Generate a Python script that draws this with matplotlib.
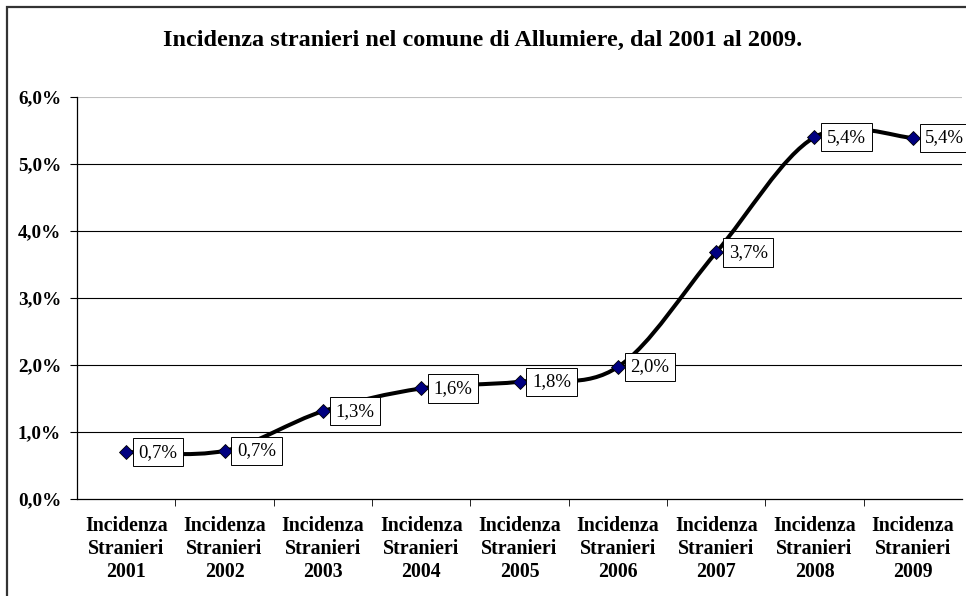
import matplotlib
matplotlib.use("Agg")
import matplotlib.pyplot as plt
from matplotlib.path import Path
from matplotlib.patches import PathPatch, Rectangle
from matplotlib.ticker import FuncFormatter, MultipleLocator

plt.rcParams['font.family'] = ['Liberation Serif', 'DejaVu Serif']

years = ["2001", "2002", "2003", "2004", "2005", "2006", "2007", "2008", "2009"]
values = [0.7, 0.7, 1.3, 1.6, 1.8, 2.0, 3.7, 5.4, 5.4]
plotted = [0.70, 0.72, 1.31, 1.65, 1.75, 1.97, 3.68, 5.40, 5.39]
labels = ["Incidenza\nStranieri\n" + y for y in years]

fig = plt.figure(figsize=(9.66, 5.96), dpi=100)
ax = fig.add_axes([77 / 966, 1 - 499 / 596, (962 - 77) / 966, (499 - 97) / 596])

x = list(range(len(years)))

# smoothed line (Catmull-Rom as cubic Bezier segments)
verts = [(x[0], plotted[0])]
codes = [Path.MOVETO]
n = len(x)
for i in range(n - 1):
    p0 = (x[max(i - 1, 0)], plotted[max(i - 1, 0)])
    p1 = (x[i], plotted[i])
    p2 = (x[i + 1], plotted[i + 1])
    p3 = (x[min(i + 2, n - 1)], plotted[min(i + 2, n - 1)])
    c1 = (p1[0] + (p2[0] - p0[0]) / 6, p1[1] + (p2[1] - p0[1]) / 6)
    c2 = (p2[0] - (p3[0] - p1[0]) / 6, p2[1] - (p3[1] - p1[1]) / 6)
    verts += [c1, c2, p2]
    codes += [Path.CURVE4] * 3
ax.add_patch(PathPatch(Path(verts, codes), facecolor="none", edgecolor="black", lw=2.9, zorder=3))

ax.plot(x, plotted, linestyle="none", marker="D", markersize=7,
        markerfacecolor="#000080", markeredgecolor="black", markeredgewidth=0.6, zorder=4)

for xi, yi, v in zip(x, plotted, values):
    ax.annotate(f"{v:.1f}%".replace(".", ","), (xi, yi), xytext=(9, 0), textcoords="offset points",
                ha="left", va="center", fontsize=13.5, zorder=5, clip_on=False,
                bbox=dict(boxstyle="square,pad=0.3", facecolor="white", edgecolor="black", lw=0.7))

ax.set_xlim(-0.5, len(years) - 0.5)
ax.set_ylim(0, 6)
ax.yaxis.set_major_locator(MultipleLocator(1))
ax.yaxis.set_major_formatter(FuncFormatter(lambda v, p: f"{v:.1f}%".replace(".", ",")))
for yv in range(1, 6):
    ax.axhline(yv, color="black", lw=0.8, zorder=1)
ax.axhline(6, color="#c0c0c0", lw=0.8, zorder=1)

ax.set_xticks(x)
ax.set_xticklabels(labels, fontsize=14.3, fontweight="bold", linespacing=1.2)
ax.set_xticks([i + 0.5 for i in x[:-1]], minor=True)
ax.tick_params(axis="x", which="major", length=0, pad=12)
ax.tick_params(axis="x", which="minor", length=5, direction="out", color="black")
ax.tick_params(axis="y", length=5, direction="out", labelsize=13.8, pad=6.5)
for lab in ax.get_yticklabels():
    lab.set_fontweight("bold")

for side in ["top", "right"]:
    ax.spines[side].set_visible(False)
ax.spines["left"].set_linewidth(0.9)
ax.spines["bottom"].set_linewidth(0.9)

fig.text(0.5, 1 - 40 / 596, "Incidenza stranieri nel comune di Allumiere, dal 2001 al 2009.",
         ha="center", va="center", fontsize=17.5, fontweight="bold")

fig.patches.append(Rectangle((7 / 966, -0.1), 1.2, 1.1 - 7 / 596, transform=fig.transFigure,
                             fill=False, edgecolor="#333333", lw=1.6))

fig.savefig("out.png", dpi=100)
